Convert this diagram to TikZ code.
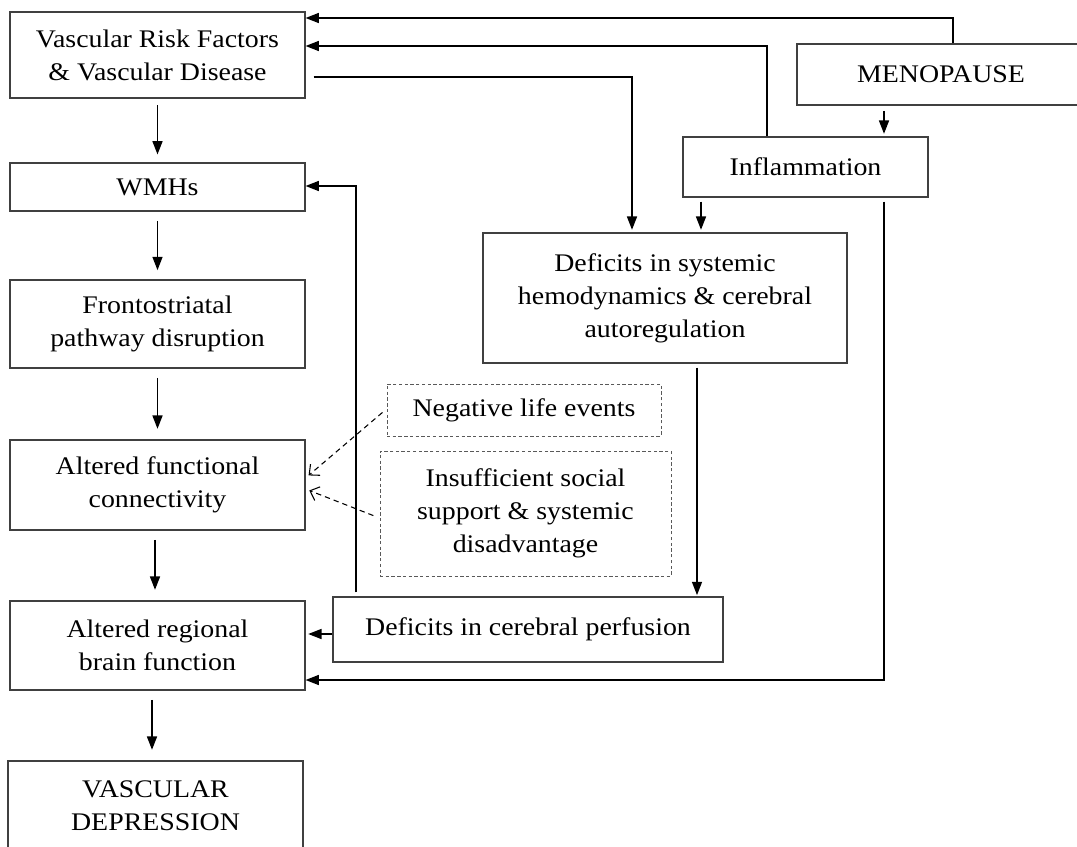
\documentclass[tikz,border=0pt]{standalone}
\usepackage{fontspec}
\setmainfont{Liberation Serif}[FakeStretch=1.1]
\usetikzlibrary{arrows.meta}
\begin{document}
\begin{tikzpicture}[x=0.75pt,y=-0.75pt,
  box/.style={draw=black!75, line width=0.8pt, align=center, inner sep=0pt,
    font=\fontsize{19}{24.75}\selectfont},
  dbox/.style={box, draw=black!65, dash pattern=on 2.5pt off 1.8pt, line width=0.7pt},
  arr/.style={line width=1.1pt, -{Triangle[width=7.5pt,length=10pt]}},
  darr/.style={line width=0.8pt, dash pattern=on 4pt off 3pt,
    -{Straight Barb[length=6pt,width=11pt,line width=0.8pt]}}]
\useasboundingbox (0,0) rectangle (1077,846);
\clip (0,0) rectangle (1077,846);
% left column
\node[box, minimum width=295*0.75pt, minimum height=86*0.75pt] (vrf) at (157.5,55) {Vascular Risk Factors\\\& Vascular Disease};
\node[box, minimum width=295*0.75pt, minimum height=48*0.75pt] (wmh) at (157.5,187) {WMHs};
\node[box, minimum width=295*0.75pt, minimum height=88*0.75pt] (fro) at (157.5,324) {Frontostriatal\\pathway disruption};
\node[box, minimum width=295*0.75pt, minimum height=90*0.75pt] (afc) at (157.5,485) {Altered functional\\connectivity};
\node[box, minimum width=295*0.75pt, minimum height=89*0.75pt] (arb) at (157.5,645.5) {Altered regional\\brain function};
\node[box, minimum width=295*0.75pt, minimum height=90*0.75pt] (vd) at (155.5,806) {VASCULAR\\DEPRESSION};
% right part
\node[box, minimum width=288*0.75pt, minimum height=61*0.75pt] (meno) at (941,74.5) {MENOPAUSE};
\node[box, minimum width=245*0.75pt, minimum height=60*0.75pt] (infl) at (805.5,167) {Inflammation};
\node[box, minimum width=364*0.75pt, minimum height=130*0.75pt] (dsys) at (665,298) {Deficits in systemic\\hemodynamics \& cerebral\\autoregulation};
\node[box, minimum width=390*0.75pt, minimum height=65*0.75pt] (dper) at (528,629.5) {\raisebox{5pt}{Deficits in cerebral perfusion}};
\node[dbox, minimum width=274*0.75pt, minimum height=52*0.75pt] (neg) at (524,410) {Negative life events};
\node[dbox, minimum width=291*0.75pt, minimum height=125*0.75pt] (ins) at (525.5,513.5) {Insufficient social\\support \& systemic\\disadvantage};
% left column arrows
\draw[arr, shorten <=5pt, shorten >=6pt] (vrf.south) -- (wmh.north);
\draw[arr, shorten <=7pt, shorten >=7pt] (wmh.south) -- (fro.north);
\draw[arr, shorten <=7pt, shorten >=8pt] (fro.south) -- (afc.north);
\draw[arr, shorten <=7pt, shorten >=8pt] (155,0 |- afc.south) -- (155,0 |- arb.north);
\draw[arr, shorten <=7pt, shorten >=8pt] (152,0 |- arb.south) -- (152,0 |- vd.north);
% top connectors
\draw[arr] (953,0 |- meno.north) |- (vrf.east |- 0,18);
\draw[arr] (767,0 |- infl.north) |- (vrf.east |- 0,46);
\draw[arr, shorten <=6pt, shorten >=2pt] (vrf.east |- 0,77) -| (632,0 |- dsys.north);
\draw[arr, shorten <=4pt, shorten >=2pt] (884,0 |- meno.south) -- (884,0 |- infl.north);
\draw[arr, shorten <=3pt, shorten >=2pt] (701,0 |- infl.south) -- (701,0 |- dsys.north);
\draw[arr, shorten <=3pt] (884,0 |- infl.south) |- (arb.east |- 0,680);
\draw[arr, shorten <=3pt, shorten >=1pt] (697,0 |- dsys.south) -- (697,0 |- dper.north);
\draw[arr, shorten >=2pt] (dper.west |- 0,634) -- (arb.east |- 0,634);
\draw[arr, shorten <=3pt] (356,0 |- dper.north) |- (wmh.east |- 0,186);
% dashed arrows
\draw[darr, shorten <=4pt, shorten >=3pt] (neg.west |- 0,409) -- (afc.east |- 0,478);
\draw[darr, shorten <=5pt, shorten >=3pt] (ins.west |- 0,518) -- (afc.east |- 0,489);
\end{tikzpicture}
\end{document}
